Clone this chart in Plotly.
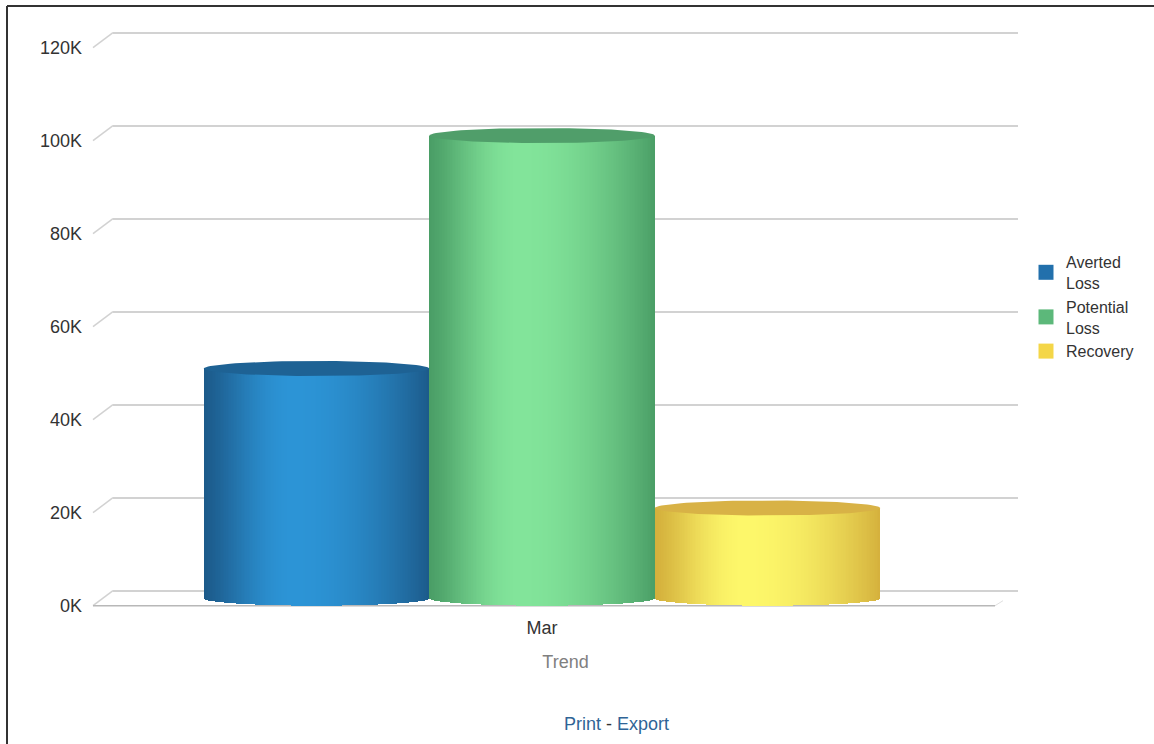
import math
import plotly.graph_objects as go

# ---------------- data ----------------
categories = ["Mar"]
series_names = ["Averted Loss", "Potential Loss", "Recovery"]
averted_loss = [49400]
potential_loss = [99500]
recovery = [19400]
y_tick_vals = [0, 20000, 40000, 60000, 80000, 100000, 120000]
y_tick_text = ["0K", "20K", "40K", "60K", "80K", "100K", "120K"]
x_title = "Trend"

series_values = [averted_loss, potential_loss, recovery]

# ---------------- styling ----------------
W, H = 1154, 744
L_PX, R_PX, T_PX, B_PX = 113, 1018, 20, 615      # plot area (back plane)
FRONT_LEFT_PX, FRONT_RIGHT_PX = 93, 995
PX_PER_UNIT = 93 / 20000.0
BACK0_PX = 590.7
DEPTH_PX = 15.0
D = (DEPTH_PX / 2) / PX_PER_UNIT                  # half depth in data units
Y_MAX = (BACK0_PX - T_PX) / PX_PER_UNIT
Y_MIN = (BACK0_PX - B_PX) / PX_PER_UNIT

BAR_PX = 225.5
CENTER_PX = 542.0
X_MIN = (L_PX - CENTER_PX) / BAR_PX
X_MAX = (R_PX - CENTER_PX) / BAR_PX

styles = [
    dict(dark=(28, 90, 138), light=(44, 148, 214), top=(30, 98, 148), legend=(34, 112, 172)),
    dict(dark=(74, 158, 102), light=(130, 228, 154), top=(80, 158, 106), legend=(92, 184, 122)),
    dict(dark=(212, 176, 60), light=(253, 247, 106), top=(216, 178, 70), legend=(244, 214, 72)),
]


def px_x_to_paper(px):
    return (px - L_PX) / (R_PX - L_PX)


def px_y_to_paper(py):
    return (B_PX - py) / (B_PX - T_PX)


def shade(u):
    p = 0.4
    if u < p:
        f = math.sin((u / p) * math.pi / 2) ** 1.3
    else:
        f = math.cos(((u - p) / (1 - p)) * math.pi / 2) ** 0.9
    return f


def mix(c1, c2, f):
    return "rgb(%d,%d,%d)" % tuple(round(a + (b - a) * f) for a, b in zip(c1, c2))


fig = go.Figure()

N = 140
strip_w = 1.0 / N
for si, (name, vals) in enumerate(zip(series_names, series_values)):
    st = styles[si]
    for ci, v in enumerate(vals):
        cx = ci + (si - 1) * 1.0
        xs, ys, bases, cols = [], [], [], []
        for k in range(N):
            u = (k + 0.5) / N
            xr = 2 * u - 1
            s = math.sqrt(max(0.0, 1 - xr * xr))
            xs.append(cx - 0.5 + u)
            bases.append(-D - D * s)
            ys.append(v + D * s)
            cols.append(mix(st["dark"], st["light"], shade(u)))
        fig.add_trace(go.Bar(
            x=xs, y=ys, base=bases, width=strip_w * 1.25,
            marker=dict(color=cols, line=dict(width=0)),
            showlegend=False, hoverinfo="skip",
        ))
        # top ellipse
        ex, ey = [], []
        for t in range(0, 361, 4):
            a = math.radians(t)
            ex.append(cx + 0.5 * math.cos(a))
            ey.append(v - D + D * math.sin(a))
        fig.add_trace(go.Scatter(
            x=ex, y=ey, mode="lines", fill="toself",
            fillcolor="rgb(%d,%d,%d)" % st["top"], line=dict(width=0),
            showlegend=False, hoverinfo="skip",
        ))
    # legend entry
    fig.add_trace(go.Scatter(
        x=[None], y=[None], name=name.replace(" ", "<br>"), mode="markers",
        marker=dict(symbol="square", size=15, color="rgb(%d,%d,%d)" % st["legend"]),
        hoverinfo="skip",
    ))

shapes = []
line_grid = dict(color="#d2d2d2", width=1.5)
# perspective diagonals for each gridline
for tv in y_tick_vals:
    shapes.append(dict(type="line", xref="paper", yref="y",
                       x0=px_x_to_paper(FRONT_LEFT_PX), y0=tv - 2 * D,
                       x1=0, y1=tv, line=line_grid, layer="below"))
# front base line
shapes.append(dict(type="line", xref="paper", yref="y",
                   x0=px_x_to_paper(FRONT_LEFT_PX), y0=-2 * D,
                   x1=px_x_to_paper(FRONT_RIGHT_PX), y1=-2 * D,
                   line=dict(color="#b8b8b8", width=1.5), layer="below"))
shapes.append(dict(type="line", xref="paper", yref="y",
                   x0=px_x_to_paper(FRONT_RIGHT_PX), y0=-2 * D,
                   x1=px_x_to_paper(FRONT_RIGHT_PX + 8), y1=-2 * D + 5 / PX_PER_UNIT,
                   line=dict(color="#e0e0e0", width=1), layer="below"))
# outer frame (top and left)
shapes.append(dict(type="line", xref="paper", yref="paper",
                   x0=px_x_to_paper(7), y0=px_y_to_paper(6),
                   x1=px_x_to_paper(W + 5), y1=px_y_to_paper(6),
                   line=dict(color="#333333", width=2)))
shapes.append(dict(type="line", xref="paper", yref="paper",
                   x0=px_x_to_paper(7), y0=px_y_to_paper(6),
                   x1=px_x_to_paper(7), y1=px_y_to_paper(H + 5),
                   line=dict(color="#333333", width=2)))

fig.update_layout(
    width=W, height=H,
    margin=dict(l=L_PX, r=W - R_PX, t=T_PX, b=H - B_PX, autoexpand=False),
    paper_bgcolor="white", plot_bgcolor="white",
    barmode="overlay", bargap=0,
    font=dict(family="Liberation Sans, Arial, sans-serif", size=18, color="#333333"),
    xaxis=dict(range=[X_MIN, X_MAX], tickvals=[0], ticktext=categories,
               showgrid=False, zeroline=False, showline=False, ticks="",
               tickfont=dict(size=18, color="#333333"),
               title=dict(text=x_title, font=dict(size=18, color="#808080"), standoff=18),
               fixedrange=True),
    yaxis=dict(range=[Y_MIN, Y_MAX], tickvals=y_tick_vals, ticktext=y_tick_text,
               showgrid=True, gridcolor="#d2d2d2", gridwidth=1.5,
               zeroline=False, showline=False, ticks="",
               ticklabelstandoff=30, ticklabelshift=15,
               tickfont=dict(size=18, color="#333333"), fixedrange=True),
    legend=dict(x=px_x_to_paper(1026), y=px_y_to_paper(245), xanchor="left", yanchor="top",
                font=dict(size=16, color="#333333"), bgcolor="rgba(0,0,0,0)",
                tracegroupgap=0, valign="middle", itemwidth=30),
    shapes=shapes,
    annotations=[dict(
        xref="paper", yref="paper", x=px_x_to_paper(616), y=px_y_to_paper(724),
        text="<span style='color:#2f6496'>Print</span> - <span style='color:#2f6496'>Export</span>",
        showarrow=False, font=dict(size=18, color="#333333"), xanchor="center", yanchor="middle",
    )],
    showlegend=True,
)

fig.write_html("out.html", config={"displayModeBar": False},
               post_script="document.body.style.margin='0';")
